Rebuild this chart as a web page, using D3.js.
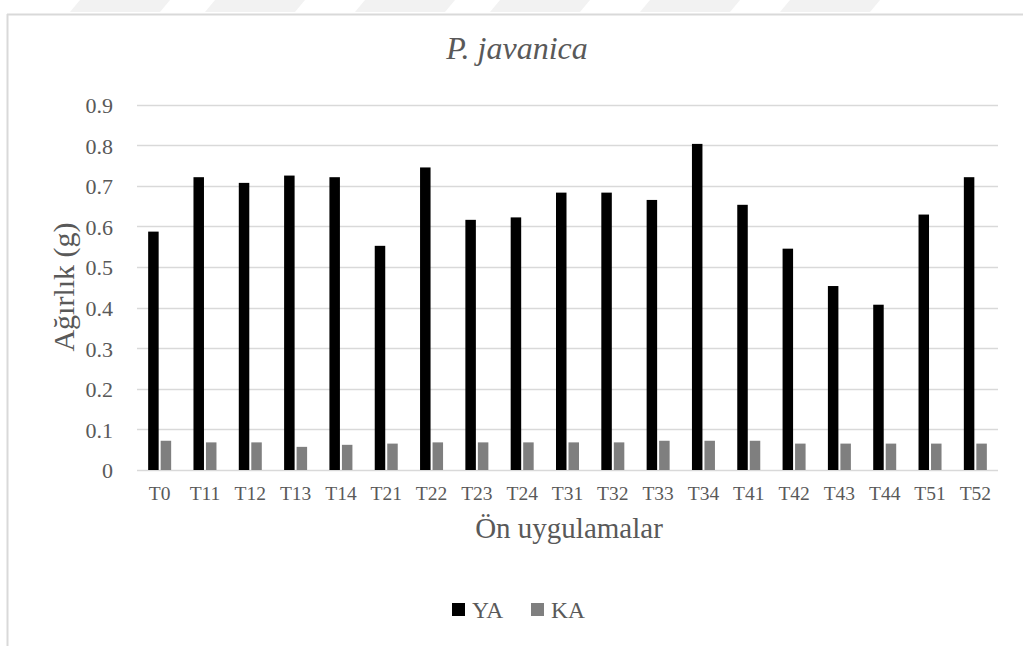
<!DOCTYPE html>
<html>
<head>
<meta charset="utf-8">
<script src="https://cdn.jsdelivr.net/npm/d3@7"></script>
<style>
  html, body { margin: 0; padding: 0; background: #ffffff; }
  svg { display: block; }
  text { font-family: "Liberation Serif", "Times New Roman", serif; fill: #595959; }
</style>
</head>
<body>
<svg id="chart" width="1023" height="646"></svg>
<script>
// Treatments and measured weights (g)
const categories = ["T0","T11","T12","T13","T14","T21","T22","T23","T24","T31","T32","T33","T34","T41","T42","T43","T44","T51","T52"];
const yaValues = [0.587,0.721,0.707,0.725,0.721,0.552,0.745,0.616,0.622,0.683,0.683,0.665,0.803,0.653,0.545,0.453,0.407,0.629,0.721];
const kaValues = [0.072,0.068,0.068,0.057,0.062,0.065,0.068,0.068,0.068,0.068,0.068,0.072,0.072,0.072,0.065,0.065,0.065,0.065,0.065];
const seriesNames = ["YA", "KA"];
const yTicks = [0, 0.1, 0.2, 0.3, 0.4, 0.5, 0.6, 0.7, 0.8, 0.9];

const colors = { YA: "#000000", KA: "#7f7f7f" };
const svg = d3.select("#chart");

// faint slanted band pattern along the top edge of the page
const bandG = svg.append("g");
const bandStarts = [80, 215, 365, 500, 650, 790];
bandStarts.forEach(x0 => {
  bandG.append("path")
    .attr("d", `M${x0},0 L${x0 + 90},0 L${x0 + 80},12 L${x0 - 10},12 Z`)
    .attr("fill", "#f2f2f2");
});

// chart area frame (top and left edges visible)
svg.append("line").attr("x1", 7).attr("x2", 1023).attr("y1", 14.5).attr("y2", 14.5)
  .attr("stroke", "#d9d9d9").attr("stroke-width", 2);
svg.append("line").attr("x1", 7.5).attr("x2", 7.5).attr("y1", 14).attr("y2", 646)
  .attr("stroke", "#d9d9d9").attr("stroke-width", 2);

const x = d3.scaleBand().domain(categories).range([137, 998]).paddingInner(0).paddingOuter(0);
const y = d3.scaleLinear().domain([0, 0.9]).range([470, 104.5]);

// gridlines
svg.append("g")
  .selectAll("line")
  .data(yTicks)
  .join("line")
  .attr("x1", 137).attr("x2", 998)
  .attr("y1", d => Math.round(y(d)) + 0.5)
  .attr("y2", d => Math.round(y(d)) + 0.5)
  .attr("stroke", "#d9d9d9").attr("stroke-width", 1.3);

// y axis labels
const yAxis = d3.axisLeft(y).tickValues(yTicks).tickSize(0).tickPadding(0)
  .tickFormat(d => d === 0 ? "0" : d3.format(".1f")(d));
const yG = svg.append("g").attr("transform", "translate(113,0)").call(yAxis);
yG.select(".domain").remove();
yG.selectAll("text").attr("font-size", 22).attr("fill", "#595959")
  .attr("font-family", "Liberation Serif").attr("dy", "0.36em");

// x axis labels
const xAxis = d3.axisBottom(x).tickSize(0).tickPadding(0);
const xG = svg.append("g").attr("transform", "translate(0,486)").call(xAxis);
xG.select(".domain").remove();
xG.selectAll("text").attr("font-size", 19.5).attr("fill", "#595959")
  .attr("font-family", "Liberation Serif").attr("dy", "0.74em");

// bars
const barW = 10.5, gap = 1;
const rows = categories.map((c, i) => ({ c, YA: yaValues[i], KA: kaValues[i] }));
const barsG = svg.append("g");
barsG.selectAll("rect.ya").data(rows).join("rect").attr("class", "ya")
  .attr("x", d => x(d.c) + x.bandwidth() / 2 - gap - barW)
  .attr("width", barW)
  .attr("y", d => y(d.YA))
  .attr("height", d => y(0) - y(d.YA))
  .attr("fill", colors.YA);
barsG.selectAll("rect.ka").data(rows).join("rect").attr("class", "ka")
  .attr("x", d => x(d.c) + x.bandwidth() / 2 + gap)
  .attr("width", barW)
  .attr("y", d => y(d.KA))
  .attr("height", d => y(0) - y(d.KA))
  .attr("fill", colors.KA);

// title
svg.append("text").attr("x", 517).attr("y", 59).attr("text-anchor", "middle")
  .attr("font-size", 32).attr("font-style", "italic").text("P. javanica");

// axis titles
svg.append("text").attr("x", 569).attr("y", 538).attr("text-anchor", "middle")
  .attr("font-size", 29).text("Ön uygulamalar");
svg.append("text").attr("transform", "translate(74,287) rotate(-90)")
  .attr("text-anchor", "middle").attr("font-size", 30).text("Ağırlık (g)");

// legend
const legend = svg.append("g");
const legendItems = [{ name: seriesNames[0], x: 452 }, { name: seriesNames[1], x: 531 }];
legendItems.forEach(it => {
  legend.append("rect").attr("x", it.x).attr("y", 603).attr("width", 13).attr("height", 13)
    .attr("fill", colors[it.name]);
  legend.append("text").attr("x", it.x + 20).attr("y", 618).attr("font-size", 23.5).text(it.name);
});
</script>
</body>
</html>
